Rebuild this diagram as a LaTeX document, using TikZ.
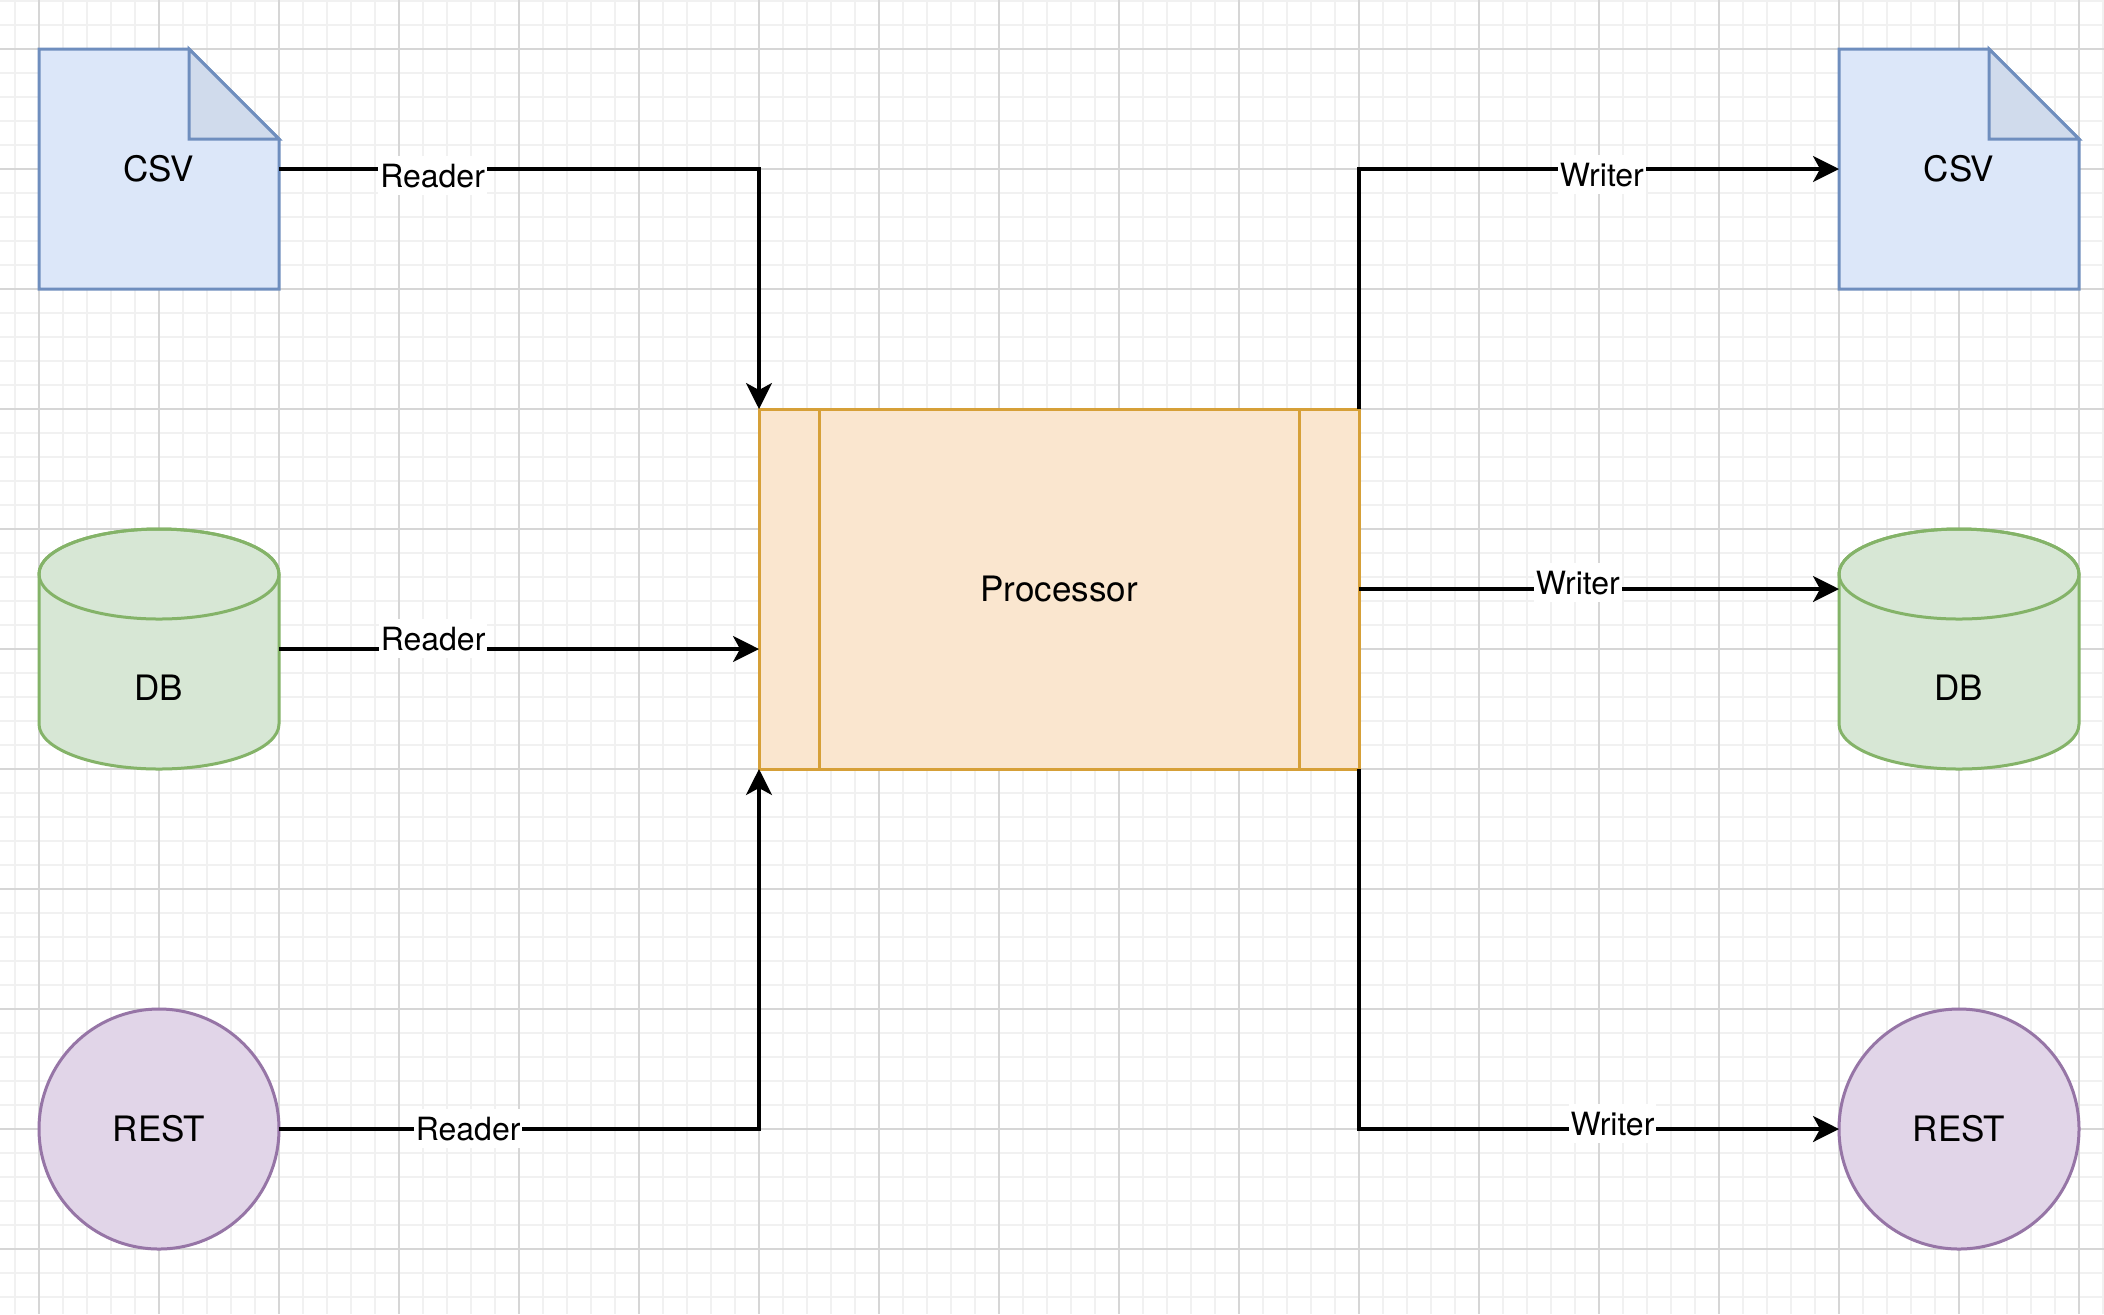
\documentclass[tikz,border=0pt]{standalone}
\usepackage{fontspec}
\setmainfont{TeX Gyre Heros}
\usetikzlibrary{arrows.meta}
\pgfdeclarelayer{bg}
\pgfsetlayers{bg,main}
\definecolor{gridminorc}{RGB}{241,241,241}
\definecolor{gridmajorc}{RGB}{214,214,214}
\definecolor{blueF}{HTML}{DCE7F9}
\definecolor{blueS}{HTML}{6F8EBE}
\definecolor{blueFold}{HTML}{D0DBEC}
\definecolor{greenF}{HTML}{D7E7D5}
\definecolor{greenS}{HTML}{84B368}
\definecolor{purpleF}{HTML}{E1D5E8}
\definecolor{purpleS}{HTML}{9675A6}
\definecolor{orF}{HTML}{FAE6CF}
\definecolor{orS}{HTML}{D6A038}
\begin{document}
\begin{tikzpicture}[x=0.5pt,y=-0.5pt,
  gridminor/.style={draw=gridminorc,line width=0.6pt},
  gridmajor/.style={draw=gridmajorc,line width=0.6pt},
  txt/.style={font=\fontsize{17.5}{21}\selectfont,text=black},
  lbl/.style={font=\fontsize{16}{19}\selectfont,text=black,fill=white,anchor=base,
    inner xsep=1pt,inner ysep=1pt,text height=14.5pt,text depth=3pt},
  box/.style={rectangle,minimum width=120pt,minimum height=120pt,inner sep=0pt,outer sep=0pt},
  docstyle/.style={draw=blueS,fill=blueF,line width=1.5pt,line join=miter},
  foldstyle/.style={draw=blueS,fill=blueFold,line width=1.5pt,line join=miter},
  cylstyle/.style={draw=greenS,fill=greenF,line width=1.5pt},
  rest/.style={circle,draw=purpleS,fill=purpleF,line width=1.5pt,minimum size=120pt,inner sep=0pt,outer sep=0pt,txt},
  proc/.style={rectangle,draw=orS,fill=orF,line width=1.5pt,minimum width=300pt,minimum height=180pt,inner sep=0pt,outer sep=0pt,txt},
  procline/.style={draw=orS,line width=1.5pt},
  conn/.style={draw=black,line width=1.6pt,-{Stealth[length=13pt,width=13pt,inset=3.5pt]}}
]
\useasboundingbox (0,0) rectangle (2104,1314);
\begin{pgfonlayer}{bg}
  \fill[white] (0,0) rectangle (2104,1314);
  \foreach \i in {0,...,87} \draw[gridminor] ({15+24*\i},0) -- ({15+24*\i},1314);
  \foreach \j in {0,...,54} \draw[gridminor] (0,{1+24*\j}) -- (2104,{1+24*\j});
  \foreach \i in {0,...,17} \draw[gridmajor] ({39+120*\i},0) -- ({39+120*\i},1314);
  \foreach \j in {0,...,10} \draw[gridmajor] (0,{49+120*\j}) -- (2104,{49+120*\j});
\end{pgfonlayer}

% nodes
\node[box,txt] (csvL) at (159,169) {CSV};
\node[box,txt] (csvR) at (1959,169) {CSV};
\node[box] (dbL) at (159,649) {};
\node[txt] (dbLt) at (159,688) {DB};
\node[box] (dbR) at (1959,649) {};
\node[txt] (dbRt) at (1959,688) {DB};
\node[rest] (restL) at (159,1129) {REST};
\node[rest] (restR) at (1959,1129) {REST};
\node[proc] (proc) at (1059,589) {Processor};
\draw[procline] ([xshift=30pt]proc.north west) -- ([xshift=30pt]proc.south west);
\draw[procline] ([xshift=-30pt]proc.north east) -- ([xshift=-30pt]proc.south east);

\begin{pgfonlayer}{bg}
  \foreach \n in {csvL,csvR} {
    \filldraw[docstyle] (\n.north west) -- ([xshift=75pt]\n.north west) -- ([yshift=-45pt]\n.north east) -- (\n.south east) -- (\n.south west) -- cycle;
    \filldraw[foldstyle] ([xshift=75pt]\n.north west) -- ([xshift=75pt,yshift=-45pt]\n.north west) -- ([yshift=-45pt]\n.north east) -- cycle;
  }
  \foreach \n in {dbL,dbR} {
    \filldraw[cylstyle] ([yshift=-22.5pt]\n.north west) -- ([yshift=22.5pt]\n.south west)
      arc[start angle=180,end angle=360,x radius=60pt,y radius=22.5pt]
      -- ([yshift=-22.5pt]\n.north east)
      arc[start angle=0,end angle=180,x radius=60pt,y radius=22.5pt] -- cycle;
    \draw[cylstyle,fill=none] ([yshift=-22.5pt]\n.north) ellipse[x radius=60pt,y radius=22.5pt];
  }
\end{pgfonlayer}

% connectors
\draw[conn] (csvL.east) -| (proc.north west) node[lbl,pos=0.160,yshift=-9pt] {Reader};
\draw[conn] (dbL.east) -- (dbL.east -| proc.west) node[lbl,pos=0.321,yshift=-0.5pt] {Reader};
\draw[conn] (restL.east) -| (proc.south west) node[lbl,pos=0.197,yshift=-5.5pt] {Reader};
\draw[conn] (proc.north east) |- (csvR.west) node[lbl,pos=0.753,yshift=-8.5pt] {Writer};
\draw[conn] (proc.east) -- (proc.east -| dbR.west) node[lbl,pos=0.456,yshift=-2.5pt] {Writer};
\draw[conn] (proc.south east) |- (restR.west) node[lbl,pos=0.764,yshift=-3pt] {Writer};
\end{tikzpicture}
\end{document}
